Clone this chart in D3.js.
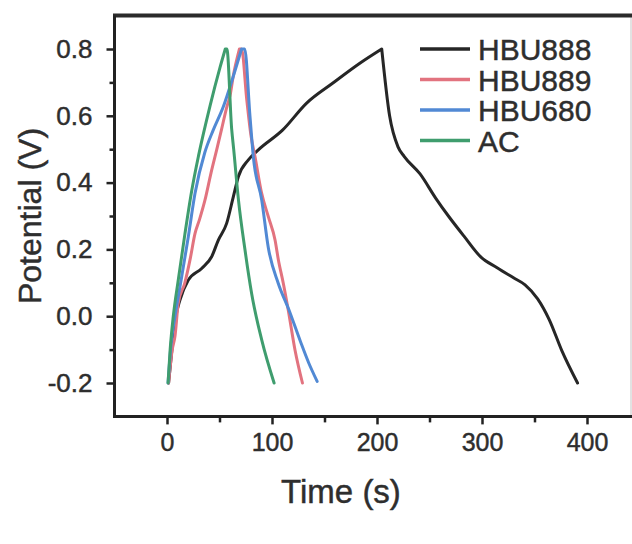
<!DOCTYPE html>
<html>
<head>
<meta charset="utf-8">
<script src="https://cdn.jsdelivr.net/npm/d3@7"></script>
<style>
html,body{margin:0;padding:0;background:#fff;}
svg{display:block;}
text{font-family:"Liberation Sans",Arial,sans-serif;fill:#2e2e2e;stroke:#2e2e2e;stroke-width:0.45px;}
</style>
</head>
<body>
<svg id="chart" width="632" height="544"></svg>
<script>
// ---- data (time in s, potential in V) ----
const seriesNames = ["HBU888", "HBU889", "HBU680", "AC"];
const seriesColors = ["#262626", "#e2737f", "#5189d4", "#3f9d6e"];

const hbu888 = [[1.5,-0.2],[5,-0.09],[8.5,0.0],[12.4,0.049],[20.3,0.108],[33,0.143],[42.5,0.178],[48.9,0.228],[56.8,0.278],[63.2,0.358],[68,0.418],[77.5,0.468],[87,0.498],[110,0.557],[133,0.638],[158,0.698],[184,0.758],[204.5,0.8],
  [212,0.6],[220,0.507],[226,0.478],[241,0.426],[256,0.353],[268,0.3],[283,0.239],[299,0.177],[314,0.146],[330,0.115],[341,0.094],[353,0.052],[364,-0.01],[376,-0.103],[391,-0.2]];
const hbu889 = [[1.5,-0.2],[5,-0.1],[7.6,-0.06],[10.8,0.04],[17,0.1],[22,0.17],[26.7,0.248],[31,0.29],[36.2,0.348],[42,0.43],[47.3,0.498],[52,0.56],[57,0.627],[60,0.66],[63,0.717],[69,0.8],
  [71,0.8],[76,0.647],[80,0.54],[83.8,0.478],[90,0.37],[96.5,0.298],[102.9,0.228],[106,0.17],[110.8,0.098],[115.5,0.018],[121.9,-0.101],[129,-0.2]];
const hbu680 = [[1,-0.2],[4,-0.08],[7.6,0.0],[14,0.118],[20.3,0.238],[26.7,0.368],[36,0.49],[44,0.557],[53.6,0.627],[63,0.717],[71,0.8],
  [74,0.8],[79,0.6],[82.2,0.478],[90.2,0.348],[96.5,0.205],[106,0.098],[116,0.02],[127,-0.075],[135,-0.14],[143,-0.195]];
const ac = [[1,-0.2],[3,-0.1],[6,0.0],[10.8,0.11],[17,0.245],[23.5,0.375],[30,0.48],[41,0.63],[50.5,0.745],[55.5,0.8],
  [57,0.8],[61.6,0.56],[63.5,0.5],[68,0.35],[74.3,0.198],[80.6,0.068],[90.2,-0.071],[102,-0.2]];
const allSeries = [hbu888, hbu889, hbu680, ac];

const xTicks = [0, 100, 200, 300, 400];
const xMinorTicks = [50, 150, 250, 350];
const yTicks = [-0.2, 0.0, 0.2, 0.4, 0.6, 0.8];
const yTickLabels = ["-0.2", "0.0", "0.2", "0.4", "0.6", "0.8"];
const yMinorTicks = [-0.1, 0.1, 0.3, 0.5, 0.7];
const xTitle = "Time (s)";
const yTitle = "Potential (V)";

// ---- layout ----
const svg = d3.select("#chart");
const x = d3.scaleLinear().domain([-50, 450]).range([114.5, 639.5]);
const y = d3.scaleLinear().domain([-0.3, 0.9]).range([416.4, 15.6]);
const pLeft = x(-50), pRight = 631, pTop = y(0.9), pBottom = y(-0.3);

// frame
svg.append("line").attr("x1", pRight).attr("x2", pRight).attr("y1", pTop).attr("y2", pBottom)
  .attr("stroke", "#d8d8d8").attr("stroke-width", 1.5);
svg.append("line").attr("x1", pLeft - 1.5).attr("x2", 632).attr("y1", pTop).attr("y2", pTop)
  .attr("stroke", "#2b2b2b").attr("stroke-width", 4);
svg.append("line").attr("x1", pLeft).attr("x2", pLeft).attr("y1", pTop).attr("y2", pBottom + 1.5)
  .attr("stroke", "#222").attr("stroke-width", 3);
svg.append("line").attr("x1", pLeft - 1.5).attr("x2", 632).attr("y1", pBottom).attr("y2", pBottom)
  .attr("stroke", "#222").attr("stroke-width", 3);

// axes
const xAxis = d3.axisBottom(x).tickValues(xTicks).tickSize(7).tickPadding(9).tickFormat(d3.format("d"));
const gx = svg.append("g").attr("transform", `translate(0,${pBottom + 1})`).call(xAxis);
gx.select(".domain").remove();
gx.selectAll(".tick line").attr("stroke", "#222").attr("stroke-width", 2.5);
gx.selectAll(".tick text").attr("font-size", 25).attr("font-family", "Liberation Sans, Arial, sans-serif").attr("fill", "#2e2e2e");

const gxm = svg.append("g").attr("transform", `translate(0,${pBottom + 1})`)
  .call(d3.axisBottom(x).tickValues(xMinorTicks).tickSize(5).tickFormat(""));
gxm.select(".domain").remove();
gxm.selectAll(".tick line").attr("stroke", "#222").attr("stroke-width", 2.5);

const yAxis = d3.axisLeft(y).tickValues(yTicks).tickSize(7).tickPadding(14)
  .tickFormat((d, i) => yTickLabels[i]);
const gy = svg.append("g").attr("transform", `translate(${pLeft - 1},0)`).call(yAxis);
gy.select(".domain").remove();
gy.selectAll(".tick line").attr("stroke", "#222").attr("stroke-width", 2.5);
gy.selectAll(".tick text").attr("font-size", 26).attr("font-family", "Liberation Sans, Arial, sans-serif").attr("fill", "#2e2e2e");

const gym = svg.append("g").attr("transform", `translate(${pLeft - 1},0)`)
  .call(d3.axisLeft(y).tickValues(yMinorTicks).tickSize(4).tickFormat(""));
gym.select(".domain").remove();
gym.selectAll(".tick line").attr("stroke", "#222").attr("stroke-width", 2.5);

// titles
svg.append("text").attr("x", 341).attr("y", 503).attr("text-anchor", "middle")
  .attr("font-size", 33).text(xTitle);
svg.append("text").attr("transform", `translate(41,216) rotate(-90)`).attr("text-anchor", "middle")
  .attr("font-size", 32).text(yTitle);

// curves
const line = d3.line().x(d => x(d[0])).y(d => y(d[1])).curve(d3.curveMonotoneX);
allSeries.forEach((pts, i) => {
  const vmax = d3.max(pts, d => d[1]);
  const iMax = pts.findIndex(d => d[1] === vmax);
  const charge = pts.slice(0, iMax + 1);
  const discharge = pts.slice(iMax);
  const path = line(charge) + line(discharge).replace(/^M/, "L");
  svg.append("path").attr("d", path).attr("fill", "none")
    .attr("stroke", seriesColors[i]).attr("stroke-width", 3)
    .attr("stroke-linejoin", "round").attr("stroke-linecap", "round");
});

// legend
const legX0 = 420, legX1 = 470, legY0 = 49, legDy = 30.5;
seriesNames.forEach((name, i) => {
  const yy = legY0 + i * legDy;
  svg.append("line").attr("x1", legX0).attr("x2", legX1).attr("y1", yy).attr("y2", yy)
    .attr("stroke", seriesColors[i]).attr("stroke-width", 3.5);
  svg.append("text").attr("x", legX1 + 8).attr("y", yy + 11).attr("font-size", 30).text(name);
});
</script>
</body>
</html>
